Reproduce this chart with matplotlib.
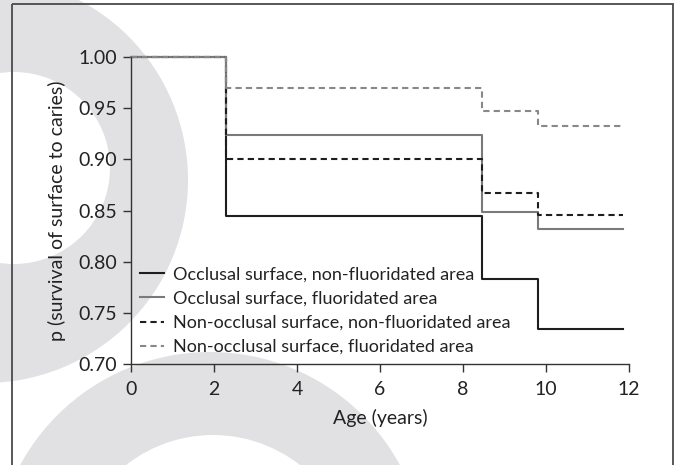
import matplotlib
matplotlib.use("Agg")
import matplotlib.pyplot as plt
from matplotlib.patches import Circle, Rectangle

plt.rcParams['font.family'] = ['Lato', 'DejaVu Sans']

# Kaplan-Meier style step data (age in years, survival probability)
age = [0, 2.3, 8.45, 9.8, 11.85]
occ_nonfluor = [1.0, 0.845, 0.783, 0.734, 0.734]
occ_fluor = [1.0, 0.924, 0.849, 0.832, 0.832]
nonocc_nonfluor = [1.0, 0.900, 0.867, 0.846, 0.846]
nonocc_fluor = [1.0, 0.970, 0.947, 0.933, 0.933]

labels = [
    "Occlusal surface, non-fluoridated area",
    "Occlusal surface, fluoridated area",
    "Non-occlusal surface, non-fluoridated area",
    "Non-occlusal surface, fluoridated area",
]
x_ticks = [0, 2, 4, 6, 8, 10, 12]
y_ticks = [0.70, 0.75, 0.80, 0.85, 0.90, 0.95, 1.00]

W, H = 676, 465
fig = plt.figure(figsize=(W / 100, H / 100), dpi=100)
fig.patch.set_facecolor("white")

# background decoration (pixel coordinates)
bg = fig.add_axes([0, 0, 1, 1], zorder=0)
bg.set_xlim(0, W)
bg.set_ylim(H, 0)
bg.axis("off")
shade = "#e1e1e3"
bg.add_patch(Circle((-15, 180), 203, color=shade, lw=0))
bg.add_patch(Circle((14, 168), 96, color="white", lw=0))
bg.add_patch(Circle((210, 568), 216, color=shade, lw=0))
bg.add_patch(Circle((213, 576), 141, color="white", lw=0))
bg.add_patch(Rectangle((12, 4.5), 661, 500, fill=False, edgecolor="#4a4a4a", lw=1.3))

ax = fig.add_axes([131 / W, 1 - 364 / H, (629 - 131) / W, (364 - 57) / H], zorder=1)
ax.set_facecolor("none")

styles = [
    dict(color="#1e1e1e", linestyle="-"),
    dict(color="#7a7a7a", linestyle="-"),
    dict(color="#1e1e1e", linestyle=(0, (3, 2))),
    dict(color="#888888", linestyle=(0, (3, 2))),
]
for series, lab, st in zip([occ_nonfluor, occ_fluor, nonocc_nonfluor, nonocc_fluor], labels, styles):
    ax.step(age, series, where="post", lw=1.5, label=lab, clip_on=False, **st)

ax.set_xlim(0, 12)
ax.set_ylim(0.70, 1.00)
ax.set_xticks(x_ticks)
ax.set_yticks(y_ticks)
ax.set_yticklabels([f"{v:.2f}" for v in y_ticks])
ax.tick_params(direction="out", length=6, width=1, colors="#333333", labelsize=14,
               labelcolor="#222222", pad=4)
ax.tick_params(axis="x", pad=6)
for s in ["top", "right"]:
    ax.spines[s].set_visible(False)
for s in ["left", "bottom"]:
    ax.spines[s].set_color("#333333")
    ax.spines[s].set_linewidth(1)

ax.set_xlabel("Age (years)", fontsize=14, color="#222222", labelpad=8)
ax.set_ylabel("p (survival of surface to caries)", fontsize=14, color="#222222", labelpad=9)

ax.legend(loc="lower left", bbox_to_anchor=(0.0, 0.0), frameon=False, fontsize=13,
          handlelength=1.35, handletextpad=0.5, labelspacing=0.45, borderaxespad=0.1,
          labelcolor="#222222")

fig.savefig("out.png", dpi=100)
